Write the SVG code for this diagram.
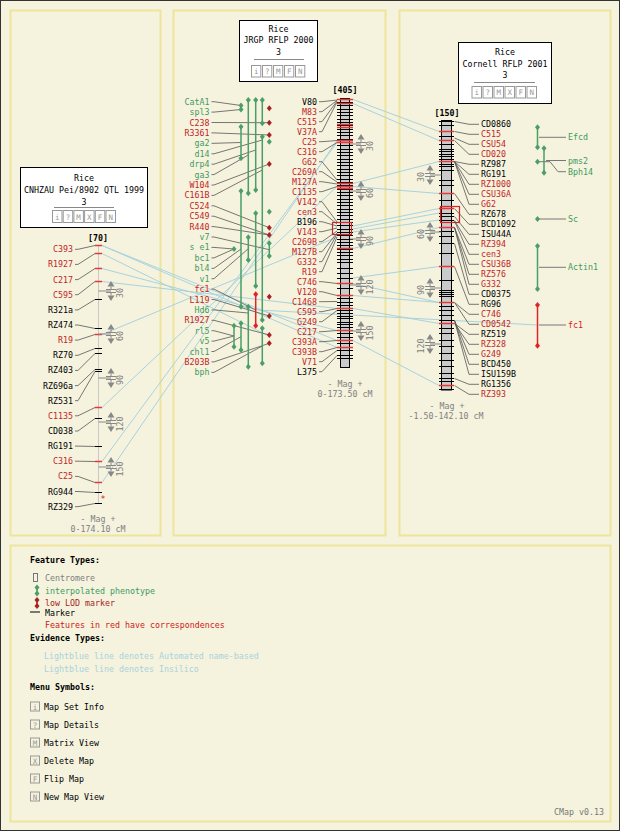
<svg xmlns="http://www.w3.org/2000/svg" xmlns:xlink="http://www.w3.org/1999/xlink" width="620" height="831" viewBox="0 0 620 831">
<style>
text{font-family:"DejaVu Sans Mono","Liberation Mono",monospace;font-size:8.3px}
.e{text-anchor:end}.m{text-anchor:middle}.b{font-weight:bold}
.k{fill:#000}.r{fill:#c41e1e}.g{fill:#3f9a5f}.dr{fill:#a82222}.gy{fill:#808080}.lbt{fill:#a9d2dd}
.pn{fill:#f5f3de;stroke:#efe49c;stroke-width:2}
.cn{fill:none;stroke:#555;stroke-width:0.8}
.lb{fill:none;stroke:#a9d2dd;stroke-width:1}
.tk{fill:none;stroke:#000;stroke-width:1}
.tr{fill:none;stroke:#e03a3a;stroke-width:1.4}
.gl{fill:none;stroke:#4a9e66;stroke-width:1.5}
.rl{fill:none;stroke:#e02424;stroke-width:1.5}
.tb{fill:#fff;stroke:#000;stroke-width:1}
.bt{fill:none;stroke:#999;stroke-width:1}
.btx{fill:#999;font-size:7.5px;text-anchor:middle}
.sl{fill:none;stroke:#888;stroke-width:1}
</style>
<defs>
<path id="dg" d="M0,-3L2.5,0L0,3L-2.5,0Z" fill="#4a9e66"/>
<path id="dd" d="M0,-3L2.5,0L0,3L-2.5,0Z" fill="#a82222"/>
<path id="df" d="M0,-3L2.5,0L0,3L-2.5,0Z" fill="#e02424"/>
<g id="sc"><path d="M0,-10L-3.5,-4.5H3.5Z M0,10L-3.5,4.5H3.5Z" fill="#888"/><path d="M0,-4.5V-1.5M-5,-1.5H5M-5,1.5H5M0,1.5V4.5" stroke="#888" fill="none"/></g>
</defs>
<rect x="0" y="0" width="620" height="831" fill="#f5f3de"/>
<rect x="0.5" y="0.5" width="619" height="830" fill="none" stroke="#333"/>
<g id="panels">
<rect class="pn" x="10.5" y="10.5" width="150" height="525"/>
<rect class="pn" x="173.5" y="10.5" width="212" height="525"/>
<rect class="pn" x="399.5" y="10.5" width="211" height="525"/>
<rect class="pn" x="10.5" y="545.5" width="600" height="276"/>
</g>
<g id="correspondences" class="lb">
<path d="M102,245.5L337,340.5M102,245.5L337,347.5M102,253.5L267,335M102,268.5L337,330.5M102,281.5L337,308.5M102,334.5L337,237M102,407.5L337,186.5M102,461.5L337,142.5M102,482.5L337,140.5"/>
<path d="M353,99.5L439,131.5M353,103.5L439,140.5M353,183.5L439,161.5M353,186.5L439,193.5M353,226L439,208.5M353,229L439,213M353,232L439,220M353,248.5L439,227.5M353,278L439,266.5M353,283.5L439,302.5M353,295.5L439,302.5M353,308.5L439,323.5M353,340.5L439,385.5M258,310L537.5,325"/>
</g>
<g id="map-left">
<rect class="tb" x="20.5" y="167.5" width="127" height="60"/>
<text class="m" x="84" y="181">Rice</text>
<text class="m" x="84" y="193">CNHZAU Pei/8902 QTL 1999</text>
<text class="m" x="84" y="204.5">3</text>
<path d="M54,207.5H114" stroke="#888"/>
<g class="bt"><rect x="52.5" y="210.5" width="9.5" height="12"/><rect x="63.2" y="210.5" width="9.5" height="12"/><rect x="73.9" y="210.5" width="9.5" height="12"/><rect x="84.6" y="210.5" width="9.5" height="12"/><rect x="95.3" y="210.5" width="9.5" height="12"/><rect x="106" y="210.5" width="9.5" height="12"/></g>
<text class="btx" x="57.2" y="219.5">i</text><text class="btx" x="67.9" y="219.5">?</text><text class="btx" x="78.6" y="219.5">M</text><text class="btx" x="89.3" y="219.5">X</text><text class="btx" x="100" y="219.5">F</text><text class="btx" x="110.7" y="219.5">N</text>
<text class="m b" x="98" y="241">[70]</text>
<path d="M98.5,245V504" stroke="#c8c8c8"/>
<path class="tk" d="M95,299.5h7M95,328.5h7M95,348.5h7M95,353.5h7M95,369.5h7M95,371.5h7M95,418.5h7M95,446.5h7M95,492.5h7M95,503.5h7"/>
<path class="tr" d="M95,245.5h7M95,253.5h7M95,268.5h7M95,281.5h7M95,334.5h7M95,407.5h7M95,461.5h7M95,482.5h7"/>
<path class="cn" d="M75,249.3H78L95,245.5M75,264.4H78L95,253.5M75,279.6H78L95,268.5M75,294.7H78L95,281.5M75,309.9H78L95,299.5M75,325H78L95,328.5M75,340.1H78L95,334.5M75,355.3H78L95,348.5M75,370.4H78L95,353.5M75,385.6H78L95,369.5M75,400.7H78L95,371.5M75,415.8H78L95,407.5M75,431H78L95,418.5M75,446.1H78L95,446.5M75,461.2H78L95,461.5M75,476.4H78L95,482.5M75,491.5H78L95,492.5M75,506.7H78L95,503.5"/>
<text class="e r" x="73" y="252.3">C393</text>
<text class="e r" x="73" y="267.4">R1927</text>
<text class="e r" x="73" y="282.6">C217</text>
<text class="e r" x="73" y="297.7">C595</text>
<text class="e k" x="73" y="312.9">R321a</text>
<text class="e k" x="73" y="328">RZ474</text>
<text class="e r" x="73" y="343.1">R19</text>
<text class="e k" x="73" y="358.3">RZ70</text>
<text class="e k" x="73" y="373.4">RZ403</text>
<text class="e k" x="73" y="388.6">RZ696a</text>
<text class="e k" x="73" y="403.7">RZ531</text>
<text class="e r" x="73" y="418.8">C1135</text>
<text class="e k" x="73" y="434">CD038</text>
<text class="e k" x="73" y="449.1">RG191</text>
<text class="e r" x="73" y="464.2">C316</text>
<text class="e r" x="73" y="479.4">C25</text>
<text class="e k" x="73" y="494.5">RG944</text>
<text class="e k" x="73" y="509.7">RZ329</text>
<text class="r" x="100.5" y="502">*</text>
<path class="sl" d="M98.5,291H111M98.5,334H111M98.5,378H111M98.5,422H111M98.5,467H111"/>
<use href="#sc" x="111" y="291"/><use href="#sc" x="111" y="334"/><use href="#sc" x="111" y="378"/><use href="#sc" x="111" y="422"/><use href="#sc" x="111" y="467"/>
<g class="gy"><text class="m" transform="translate(123,293) rotate(-90)">30</text><text class="m" transform="translate(123,336) rotate(-90)">60</text><text class="m" transform="translate(123,380) rotate(-90)">90</text><text class="m" transform="translate(123,424) rotate(-90)">120</text><text class="m" transform="translate(123,469) rotate(-90)">150</text></g>
<text class="m gy" x="98" y="522">- Mag +</text>
<text class="m gy" x="98" y="532">0-174.10 cM</text>
</g>
<g id="map-middle">
<rect class="tb" x="239.5" y="20.5" width="78" height="61"/>
<text class="m" x="278.5" y="31.5">Rice</text>
<text class="m" x="278.5" y="43">JRGP RFLP 2000</text>
<text class="m" x="278.5" y="55">3</text>
<path d="M254,59.5H304" stroke="#888"/>
<g class="bt"><rect x="251.5" y="65.5" width="9.3" height="11.5"/><rect x="262.5" y="65.5" width="9.3" height="11.5"/><rect x="273.5" y="65.5" width="9.3" height="11.5"/><rect x="284.5" y="65.5" width="9.3" height="11.5"/><rect x="295.5" y="65.5" width="9.3" height="11.5"/></g>
<text class="btx" x="256.2" y="74.3">i</text><text class="btx" x="267.2" y="74.3">?</text><text class="btx" x="278.2" y="74.3">M</text><text class="btx" x="289.2" y="74.3">F</text><text class="btx" x="300.2" y="74.3">N</text>
<text class="m b" x="345" y="93">[405]</text>
<rect x="340.5" y="98.5" width="9" height="269" fill="#cacaca" stroke="#000"/>
<path class="tk" d="M337,99.5h16M337,102.5h16M337,105.5h16M337,109.5h16M337,112.5h16M337,115.5h16M337,119.5h16M337,122.5h16M337,125.5h16M337,129.5h16M337,132.5h16M337,135.5h16M337,139.5h16M337,142.5h16M337,145.5h16M337,149.5h16M337,152.5h16M337,155.5h16M337,159.5h16M337,162.5h16M337,165.5h16M337,169.5h16M337,172.5h16M337,175.5h16M337,179.5h16M337,182.5h16M337,185.5h16M337,189.5h16M337,192.5h16M337,195.5h16M337,199.5h16M337,202.5h16M337,205.5h16M337,209.5h16M337,212.5h16M337,215.5h16M337,219.5h16M337,222.5h16M337,225.5h16M337,229.5h16M337,232.5h16M337,235.5h16M337,239.5h16M337,242.5h16M337,245.5h16M337,249.5h16M337,252.5h16M337,255.5h16M337,259.5h16M337,262.5h16M337,268.5h16M337,273.5h16M337,278.5h16M337,288.5h16M337,298.5h16M337,302.5h16M337,305.5h16M337,310.5h16M337,313.5h16M337,316.5h16M337,318.5h16M337,322.5h16M337,324.5h16M337,327.5h16M337,333.5h16M337,337.5h16M337,343.5h16M337,350.5h16M337,355.5h16M337,358.5h16"/>
<path class="tr" d="M337,99.5h16M337,103.5h16M337,124.5h16M337,127.5h16M337,140.5h16M337,142.5h16M337,183.5h16M337,186.5h16M337,188.5h16M337,248.5h16M337,283.5h16M337,295.5h16M337,308.5h16M337,330.5h16M337,340.5h16M337,347.5h16"/>
<rect x="332.5" y="222.5" width="19" height="12" fill="none" stroke="#d22" stroke-width="1.2"/>
<path class="cn" d="M319,101.7H322L337,100M319,111.7H322L337,100.5M319,121.7H322L337,101M319,131.7H322L337,102M319,141.7H322L337,140.5M319,151.7H322L337,142.5M319,161.7H322L337,180M319,171.7H322L337,182M319,181.7H322L337,184M319,191.7H322L337,186.5M319,201.7H322L337,222M319,211.7H322L337,224M319,221.7H322L337,226M319,231.7H322L337,228M319,241.7H322L337,231M319,251.7H322L337,233M319,261.7H322L337,234M319,271.7H322L337,237M319,281.7H322L337,283.5M319,291.7H322L337,295.5M319,301.7H322L337,301.5M319,311.7H322L337,308.5M319,321.7H322L337,310.5M319,331.7H322L337,330.5M319,341.7H322L337,340.5M319,351.7H322L337,347.5M319,361.7H322L337,350.5M319,371.7H322L337,355.5"/>
<text class="e k" x="317" y="104.7">V80</text>
<text class="e r" x="317" y="114.7">M83</text>
<text class="e r" x="317" y="124.7">C515</text>
<text class="e r" x="317" y="134.7">V37A</text>
<text class="e r" x="317" y="144.7">C25</text>
<text class="e r" x="317" y="154.7">C316</text>
<text class="e r" x="317" y="164.7">G62</text>
<text class="e r" x="317" y="174.7">C269A</text>
<text class="e r" x="317" y="184.7">M127A</text>
<text class="e r" x="317" y="194.7">C1135</text>
<text class="e r" x="317" y="204.7">V142</text>
<text class="e r" x="317" y="214.7">cen3</text>
<text class="e k" x="317" y="224.7">B196</text>
<text class="e r" x="317" y="234.7">V143</text>
<text class="e r" x="317" y="244.7">C269B</text>
<text class="e r" x="317" y="254.7">M127B</text>
<text class="e r" x="317" y="264.7">G332</text>
<text class="e r" x="317" y="274.7">R19</text>
<text class="e r" x="317" y="284.7">C746</text>
<text class="e r" x="317" y="294.7">V120</text>
<text class="e r" x="317" y="304.7">C1468</text>
<text class="e r" x="317" y="314.7">C595</text>
<text class="e r" x="317" y="324.7">G249</text>
<text class="e r" x="317" y="334.7">C217</text>
<text class="e r" x="317" y="344.7">C393A</text>
<text class="e r" x="317" y="354.7">C393B</text>
<text class="e r" x="317" y="364.7">V71</text>
<text class="e k" x="317" y="374.7">L375</text>
<path class="sl" d="M350,144H361M350,191H361M350,239H361M350,285H361M350,331H361"/>
<use href="#sc" x="361" y="144"/><use href="#sc" x="361" y="191"/><use href="#sc" x="361" y="239"/><use href="#sc" x="361" y="285"/><use href="#sc" x="361" y="331"/>
<g class="gy"><text class="m" transform="translate(372.5,146) rotate(-90)">30</text><text class="m" transform="translate(372.5,193) rotate(-90)">60</text><text class="m" transform="translate(372.5,241) rotate(-90)">90</text><text class="m" transform="translate(372.5,287) rotate(-90)">120</text><text class="m" transform="translate(372.5,333) rotate(-90)">150</text></g>
<text class="m gy" x="345" y="387">- Mag +</text>
<text class="m gy" x="345" y="397">0-173.50 cM</text>
</g>
<g id="qtl-middle">
<path class="cn" d="M211.5,101.7H214L241,105.5M211.5,112.1H214L241,109.5M211.5,122.5H214L269.3,122.7M211.5,132.9H214L269.3,135M211.5,143.3H214L241,142.5M211.5,153.8H214L262.3,140M211.5,164.2H214L255.7,150M211.5,174.6H214L248.3,155M211.5,185H214L269.3,164M211.5,195.4H214L262.3,170M211.5,205.8H214L269.3,227.7M211.5,216.2H214L269.3,235M211.5,226.6H214L269.3,235M211.5,237H214L269.3,249.7M211.5,247.4H214L234,249M211.5,257.9H214L234,249M211.5,268.3H214L241,249M211.5,278.7H214L248.3,248.7M211.5,289.1H214L255.7,310M211.5,299.5H214L269.3,316M211.5,309.9H214L248.3,313M211.5,320.3H214L269.3,335M211.5,330.7H214L234,336M211.5,341.1H214L234,336M211.5,351.5H214L241,336.7M211.5,361.9H214L269.3,343.3M211.5,372.4H214L262.3,346"/>
<path class="gl" d="M241,105.5V109.5M248.3,100V193.3M255.7,100V190M262.3,100V123.3M262.3,136.7V320M262.3,328.3V363.3M241,126.7V158.3M241,191V306.7M241,323.3V350M234,325.7V346.7M248.3,237.3V260M248.3,306.7V366.7M255.7,213.3V286M269.3,243.3V256"/>
<path class="rl" d="M255.7,294.3V325.7"/>
<use href="#dg" x="241" y="105.5"/><use href="#dg" x="241" y="109.5"/>
<use href="#dg" x="248.3" y="100"/><use href="#dg" x="248.3" y="193.3"/>
<use href="#dg" x="255.7" y="100"/><use href="#dg" x="255.7" y="190"/>
<use href="#dg" x="262.3" y="100"/><use href="#dg" x="262.3" y="123.3"/>
<use href="#dg" x="262.3" y="136.7"/><use href="#dg" x="262.3" y="320"/>
<use href="#dg" x="262.3" y="328.3"/><use href="#dg" x="262.3" y="363.3"/>
<use href="#dg" x="241" y="126.7"/><use href="#dg" x="241" y="158.3"/>
<use href="#dg" x="241" y="191"/><use href="#dg" x="241" y="306.7"/>
<use href="#dg" x="241" y="323.3"/><use href="#dg" x="241" y="350"/>
<use href="#dg" x="234" y="325.7"/><use href="#dg" x="234" y="346.7"/>
<use href="#dg" x="248.3" y="237.3"/><use href="#dg" x="248.3" y="260"/>
<use href="#dg" x="248.3" y="306.7"/><use href="#dg" x="248.3" y="366.7"/>
<use href="#dg" x="255.7" y="213.3"/><use href="#dg" x="255.7" y="286"/>
<use href="#dg" x="269.3" y="243.3"/><use href="#dg" x="269.3" y="256"/>
<use href="#dg" x="234" y="249"/><use href="#dg" x="269.3" y="141.7"/><use href="#dg" x="269.3" y="211.7"/>
<use href="#df" x="255.7" y="294.3"/><use href="#df" x="255.7" y="325.7"/>
<use href="#dd" x="269.3" y="108.3"/><use href="#dd" x="269.3" y="122.7"/><use href="#dd" x="269.3" y="135"/><use href="#dd" x="269.3" y="164"/><use href="#dd" x="269.3" y="227.7"/><use href="#dd" x="269.3" y="235"/><use href="#dd" x="269.3" y="296.7"/><use href="#dd" x="269.3" y="316"/><use href="#dd" x="269.3" y="335"/><use href="#dd" x="269.3" y="343.3"/>
<text class="e g" x="209.5" y="104.7">CatA1</text>
<text class="e g" x="209.5" y="115.1">spl3</text>
<text class="e r" x="209.5" y="125.5">C238</text>
<text class="e r" x="209.5" y="135.9">R3361</text>
<text class="e g" x="209.5" y="146.3">ga2</text>
<text class="e g" x="209.5" y="156.8">d14</text>
<text class="e g" x="209.5" y="167.2">drp4</text>
<text class="e g" x="209.5" y="177.6">ga3</text>
<text class="e r" x="209.5" y="188">W104</text>
<text class="e r" x="209.5" y="198.4">C161B</text>
<text class="e r" x="209.5" y="208.8">C524</text>
<text class="e r" x="209.5" y="219.2">C549</text>
<text class="e r" x="209.5" y="229.6">R440</text>
<text class="e g" x="209.5" y="240">v7</text>
<text class="e g" x="209.5" y="250.4">s e1</text>
<text class="e g" x="209.5" y="260.9">bc1</text>
<text class="e g" x="209.5" y="271.3">bl4</text>
<text class="e g" x="209.5" y="281.7">v1</text>
<text class="e" x="209.5" y="292.1" fill="#e01818">fc1</text>
<text class="e r" x="209.5" y="302.5">L119</text>
<text class="e g" x="209.5" y="312.9">Hd6</text>
<text class="e r" x="209.5" y="323.3">R1927</text>
<text class="e g" x="209.5" y="333.7">rl5</text>
<text class="e g" x="209.5" y="344.1">v5</text>
<text class="e g" x="209.5" y="354.5">chl1</text>
<text class="e r" x="209.5" y="364.9">B203B</text>
<text class="e g" x="209.5" y="375.4">bph</text>
</g>
<g id="map-right">
<rect class="tb" x="458.5" y="42.5" width="93" height="61"/>
<text class="m" x="505" y="55">Rice</text>
<text class="m" x="505" y="66.5">Cornell RFLP 2001</text>
<text class="m" x="505" y="77.5">3</text>
<path d="M474,82.5H535" stroke="#888"/>
<g class="bt"><rect x="472" y="86.5" width="9.5" height="11.5"/><rect x="483" y="86.5" width="9.5" height="11.5"/><rect x="494" y="86.5" width="9.5" height="11.5"/><rect x="505" y="86.5" width="9.5" height="11.5"/><rect x="516" y="86.5" width="9.5" height="11.5"/><rect x="527" y="86.5" width="9.5" height="11.5"/></g>
<text class="btx" x="476.7" y="95.3">i</text><text class="btx" x="487.7" y="95.3">?</text><text class="btx" x="498.7" y="95.3">M</text><text class="btx" x="509.7" y="95.3">X</text><text class="btx" x="520.7" y="95.3">F</text><text class="btx" x="531.7" y="95.3">N</text>
<text class="m b" x="447" y="116">[150]</text>
<rect x="441.5" y="120.5" width="10" height="269.5" fill="#cacaca" stroke="#000"/>
<path class="tk" d="M439,121.5h15M439,125.5h15M439,136.5h15M439,144.5h15M439,149.5h15M439,151.5h15M439,154.5h15M439,156.5h15M439,159.5h15M439,164.5h15M439,166.5h15M439,170.5h15M439,180.5h15M439,185.5h15M439,200.5h15M439,213.5h15M439,216.5h15M439,220.5h15M439,231.5h15M439,236.5h15M439,243.5h15M439,253.5h15M439,280.5h15M439,290.5h15M439,292.5h15M439,294.5h15M439,296.5h15M439,306.5h15M439,310.5h15M439,315.5h15M439,320.5h15M439,328.5h15M439,333.5h15M439,340.5h15M439,346.5h15M439,353.5h15M439,360.5h15M439,366.5h15M439,373.5h15M439,378.5h15M439,381.5h15M439,389.5h15"/>
<path class="tr" d="M439,131.5h15M439,140.5h15M439,161.5h15M439,193.5h15M439,208.5h15M439,227.5h15M439,266.5h15M439,302.5h15M439,323.5h15M439,385.5h15"/>
<rect x="440.5" y="206.5" width="19" height="16" fill="none" stroke="#d22" stroke-width="1.2"/>
<path class="cn" d="M479,124.3H469L454.5,121.5M479,134.3H469L454.5,131.5M479,144.3H469L454.5,138M479,154.3H469L454.5,140.5M479,164.3H469L454.5,161.5M479,174.3H469L454.5,161.5M479,184.3H469L454.5,161.5M479,194.3H469L454.5,161.5M479,204.3H469L454.5,161.5M479,214.3H469L454.5,193.5M479,224.3H469L454.5,208.5M479,234.3H469L454.5,216.5M479,244.3H469L454.5,220.5M479,254.3H469L454.5,221M479,264.3H469L454.5,227.5M479,274.3H469L454.5,227.5M479,284.3H469L454.5,227.5M479,294.3H469L454.5,243.5M479,304.3H469L454.5,266.5M479,314.3H469L454.5,302.5M479,324.3H469L454.5,302.5M479,334.3H469L454.5,323.5M479,344.3H469L454.5,323.5M479,354.3H469L454.5,320.5M479,364.3H469L454.5,320.5M479,374.3H469L454.5,320.5M479,384.3H469L454.5,378.5M479,394.3H469L454.5,385.5"/>
<text class="k" x="481" y="127.3">CD0860</text>
<text class="r" x="481" y="137.3">C515</text>
<text class="r" x="481" y="147.3">CSU54</text>
<text class="r" x="481" y="157.3">CD020</text>
<text class="k" x="481" y="167.3">RZ987</text>
<text class="k" x="481" y="177.3">RG191</text>
<text class="r" x="481" y="187.3">RZ1000</text>
<text class="r" x="481" y="197.3">CSU36A</text>
<text class="r" x="481" y="207.3">G62</text>
<text class="k" x="481" y="217.3">RZ678</text>
<text class="k" x="481" y="227.3">BCD1092</text>
<text class="k" x="481" y="237.3">ISU44A</text>
<text class="r" x="481" y="247.3">RZ394</text>
<text class="r" x="481" y="257.3">cen3</text>
<text class="r" x="481" y="267.3">CSU36B</text>
<text class="r" x="481" y="277.3">RZ576</text>
<text class="r" x="481" y="287.3">G332</text>
<text class="k" x="481" y="297.3">CD0375</text>
<text class="k" x="481" y="307.3">RG96</text>
<text class="r" x="481" y="317.3">C746</text>
<text class="r" x="481" y="327.3">CD0542</text>
<text class="k" x="481" y="337.3">RZ519</text>
<text class="r" x="481" y="347.3">RZ328</text>
<text class="r" x="481" y="357.3">G249</text>
<text class="k" x="481" y="367.3">BCD450</text>
<text class="k" x="481" y="377.3">ISU159B</text>
<text class="k" x="481" y="387.3">RG1356</text>
<text class="r" x="481" y="397.3">RZ393</text>
<path class="sl" d="M430,175H441.5M430,232H441.5M430,288H441.5M430,344H441.5"/>
<use href="#sc" x="430" y="175"/><use href="#sc" x="430" y="232"/><use href="#sc" x="430" y="288"/><use href="#sc" x="430" y="344"/>
<g class="gy"><text class="m" transform="translate(423.5,177) rotate(-90)">30</text><text class="m" transform="translate(423.5,234) rotate(-90)">60</text><text class="m" transform="translate(423.5,290) rotate(-90)">90</text><text class="m" transform="translate(423.5,346) rotate(-90)">120</text></g>
<text class="m gy" x="447" y="409">- Mag +</text>
<text class="m gy" x="446" y="419">-1.50-142.10 cM</text>
</g>
<g id="qtl-right">
<path d="M539,137.3H566M546,160.5H566M539,161.7H550L558,171.7H566M539,219H566M539,267.3H566M539,325H566" fill="none" stroke="#777"/>
<path class="gl" d="M537.5,127.3V147.3M544,148.3V172.7M537.5,246V289"/>
<path class="rl" d="M537.5,305V345.7"/>
<use href="#dg" x="537.5" y="127.3"/><use href="#dg" x="537.5" y="147.3"/>
<use href="#dg" x="544" y="148.3"/><use href="#dg" x="544" y="172.7"/>
<use href="#dg" x="537.5" y="161.7"/><use href="#dg" x="537.5" y="219"/>
<use href="#dg" x="537.5" y="246"/><use href="#dg" x="537.5" y="289"/>
<use href="#df" x="537.5" y="305"/><use href="#df" x="537.5" y="345.7"/>
<text class="g" x="568" y="140.3">Efcd</text>
<text class="g" x="568" y="163.5">pms2</text>
<text class="g" x="568" y="174.7">Bph14</text>
<text class="g" x="568" y="222">Sc</text>
<text class="g" x="568" y="270.3">Actin1</text>
<text x="568" y="328" fill="#e01818">fc1</text>
</g>
<g id="legend">
<text class="b" x="30" y="563">Feature Types:</text>
<rect x="33.5" y="573.5" width="4" height="8" fill="none" stroke="#777"/>
<text class="gy" x="45" y="581">Centromere</text>
<path d="M37,587.5V593.5" stroke="#4a9e66" stroke-width="1.5"/><use href="#dg" x="37" y="587.5"/><use href="#dg" x="37" y="593.5"/>
<text class="g" x="45" y="594">interpolated phenotype</text>
<path d="M37,600V606" stroke="#a82222" stroke-width="1.5"/><use href="#dd" x="37" y="600"/><use href="#dd" x="37" y="606"/>
<text class="dr" x="45" y="606">low LOD marker</text>
<path d="M30,612H40" stroke="#000"/>
<text class="k" x="45" y="615.5">Marker</text>
<text x="45" y="628" fill="#d01818">Features in red have correspondences</text>
<text class="b" x="30" y="641">Evidence Types:</text>
<text class="lbt" x="44" y="659">Lightblue line denotes Automated name-based</text>
<text class="lbt" x="44" y="671.5">Lightblue line denotes Insilico</text>
<text class="b" x="30" y="690">Menu Symbols:</text>
<g class="bt"><rect x="30.5" y="702" width="9" height="9"/><rect x="30.5" y="720" width="9" height="9"/><rect x="30.5" y="738" width="9" height="9"/><rect x="30.5" y="756" width="9" height="9"/><rect x="30.5" y="774" width="9" height="9"/><rect x="30.5" y="792" width="9" height="9"/></g>
<text class="btx" x="35" y="709.5">i</text><text class="btx" x="35" y="727.5">?</text><text class="btx" x="35" y="745.5">M</text><text class="btx" x="35" y="763.5">X</text><text class="btx" x="35" y="781.5">F</text><text class="btx" x="35" y="799.5">N</text>
<text x="44" y="709.5">Map Set Info</text>
<text x="44" y="727.5">Map Details</text>
<text x="44" y="745.5">Matrix View</text>
<text x="44" y="763.5">Delete Map</text>
<text x="44" y="781.5">Flip Map</text>
<text x="44" y="799.5">New Map View</text>
<text class="e" x="604" y="815" fill="#777">CMap v0.13</text>
</g>
</svg>
